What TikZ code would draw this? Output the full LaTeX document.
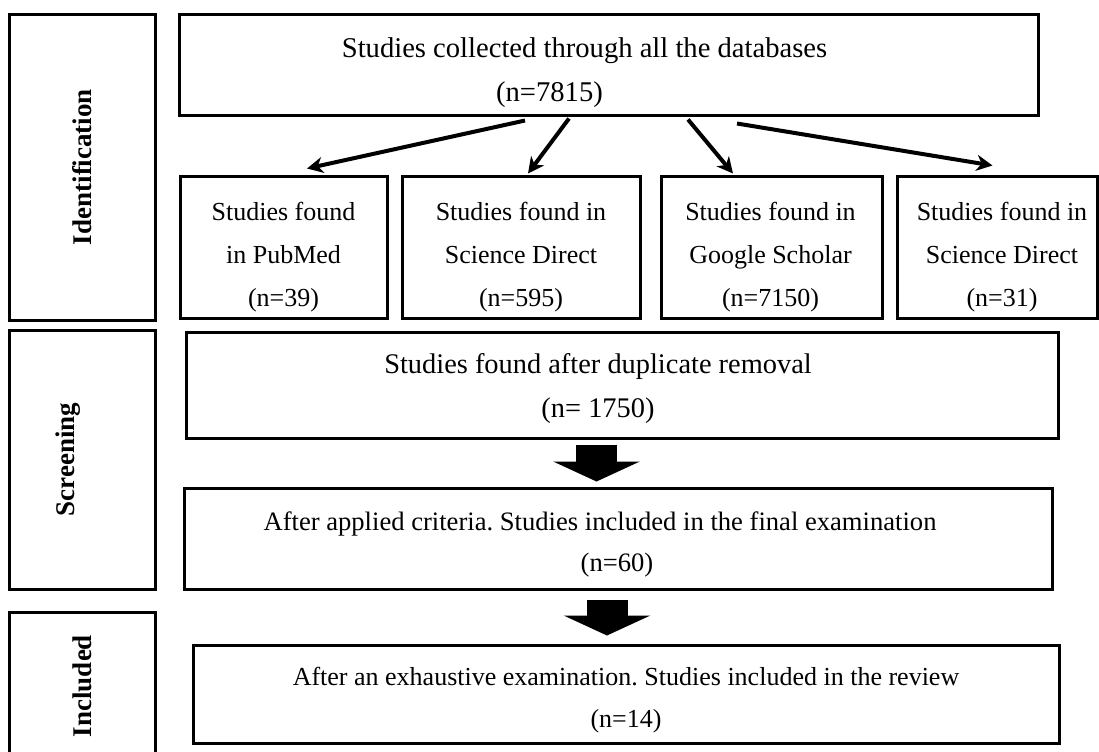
\documentclass[tikz,border=0pt]{standalone}
\usepackage{fontspec}
\setmainfont{Liberation Serif}
\frenchspacing
\usetikzlibrary{positioning,arrows.meta,calc}

\tikzset{
  box/.style={draw=black,line width=1.5pt,rectangle,inner sep=0pt},
  stagebox/.style={box,minimum width=73pt},
  txt/.style={inner sep=0pt,align=center,font=\fontsize{13}{21.5}\selectfont},
  stagetxt/.style={inner sep=0pt,rotate=90,font=\fontsize{13.5}{16}\selectfont\bfseries},
  link/.style={line width=2pt,-{Stealth[length=8pt,width=8pt,inset=2.5pt]}},
  bigarrow/.style={line width=20.5pt,-{Triangle[width=43pt,length=10pt]}},
}

\begin{document}
\begin{tikzpicture}[x=0.5pt,y=-0.5pt]
  \useasboundingbox (0,0) rectangle (1099,751);

  % stages
  \node[stagebox,minimum height=153pt] (ident) at (82,167) {};
  \node[stagebox,minimum height=129.5pt] (screen) at (82,459.5) {};
  \node[stagebox,minimum height=74pt] (incl) at (82,686) {};
  \node[stagetxt] (identtxt) at (ident) {Identification};
  \node[stagetxt] (screentxt) at ($(screen)+(-14,0)$) {Screening};
  \node[stagetxt] (incltxt) at (incl) {Included};

  % identification
  \node[box,minimum width=429.5pt,minimum height=50.5pt] (total) at (608.5,64.5) {};
  \node[box,minimum width=103.5pt,minimum height=71pt] (pubmed) at (283.5,247) {};
  \node[box,minimum width=119pt,minimum height=71pt] (sdirect) at (521,247) {};
  \node[box,minimum width=110.5pt,minimum height=71pt] (scholar) at (771.5,247) {};
  \node[box,minimum width=100pt,minimum height=71pt] (sdirectb) at (997,247) {};

  \node[txt,font=\fontsize{14.3}{22}\selectfont] (totaltxt) at ($(total)+(-24,8)$)
    {Studies collected through all the databases\\(n=7815)\hspace*{35pt}};
  \node[txt] (pubmedtxt) at ($(pubmed)+(0,10)$) {Studies found\\in PubMed\\(n=39)};
  \node[txt] (sdirecttxt) at ($(sdirect)+(0,10)$) {Studies found in\\Science Direct\\(n=595)};
  \node[txt] (scholartxt) at ($(scholar)+(-1,10)$) {Studies found in\\Google Scholar\\(n=7150)};
  \node[txt] (sdirectbtxt) at ($(sdirectb)+(5,10)$) {Studies found in\\Science Direct\\(n=31)};

  % screening and included
  \node[box,minimum width=436pt,minimum height=53pt] (dedup) at (622,385) {};
  \node[box,minimum width=434pt,minimum height=50.5pt] (criteria) at (618,538.5) {};
  \node[box,minimum width=433pt,minimum height=49pt] (review) at (626,694) {};

  \node[txt,font=\fontsize{14.2}{22}\selectfont] (deduptxt) at ($(dedup)+(-24,4)$)
    {Studies found after duplicate removal\\(n= 1750)};
  \node[txt,font=\fontsize{13.3}{20.5}\selectfont] (criteriatxt) at ($(criteria)+(-18,6)$)
    {After applied criteria. Studies included in the final examination\\\hspace*{17pt}(n=60)};
  \node[txt,font=\fontsize{13}{21}\selectfont] (reviewtxt) at ($(review)+(0,6)$)
    {After an exhaustive examination. Studies included in the review\\(n=14)};

  % connectors
  \draw[link] ($(total.south)+(-83.5,4)$) -- ($(pubmed.north)+(23.5,-6)$);
  \draw[link] ($(total.south)+(-39.5,2)$) -- ($(sdirect.north)+(7,-1)$);
  \draw[link] ($(total.south)+(79.5,3)$) -- ($(scholar.north)+(-38.5,-1)$);
  \draw[link] ($(total.south)+(128.5,7)$) -- ($(sdirectb.north)+(-4.5,-9)$);

  \draw[bigarrow] ($(dedup.south)+(-25.5,5)$) -- ($(criteria.north)+(-21.5,-5)$);
  \draw[bigarrow] ($(criteria.south)+(-11,9)$) -- ($(review.north)+(-19,-8)$);
\end{tikzpicture}
\end{document}
